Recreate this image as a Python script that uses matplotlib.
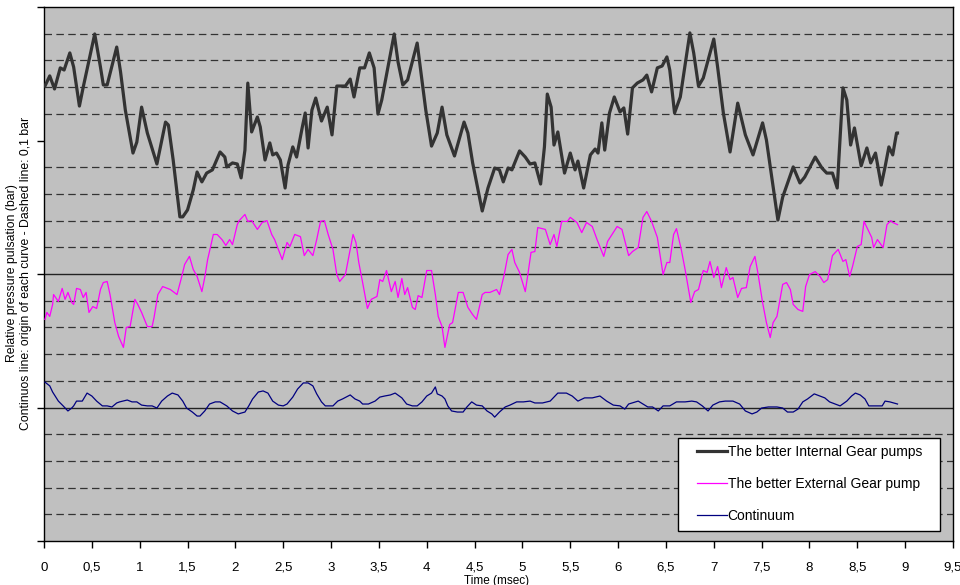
import matplotlib
matplotlib.use("Agg")
import matplotlib.pyplot as plt
from matplotlib.patches import Rectangle
from matplotlib.ticker import FuncFormatter

plt.rcParams["font.family"] = ["Liberation Sans", "DejaVu Sans"]

# curve origins on the axis (bar); dashed grid every 0.1 bar
origins = {"internal": 1.5, "external": 1.0, "continuum": 0.5}

internal_t = [0.01, 0.06, 0.11, 0.17, 0.21, 0.27, 0.31, 0.37, 0.41, 0.53, 0.59, 0.62, 0.66, 0.76, 0.80,
              0.85, 0.93, 0.97, 1.02, 1.08, 1.18, 1.27, 1.30, 1.35, 1.42, 1.45, 1.50, 1.56, 1.60, 1.65,
              1.70, 1.76, 1.84, 1.89, 1.91, 1.97, 2.02, 2.06, 2.10, 2.13, 2.17, 2.23, 2.26, 2.31, 2.36,
              2.39, 2.43, 2.47, 2.52, 2.55, 2.60, 2.64, 2.70, 2.73, 2.76, 2.80, 2.84, 2.90, 2.96, 3.01,
              3.06, 3.15, 3.20, 3.24, 3.30, 3.35, 3.40, 3.45, 3.49, 3.53, 3.66, 3.70, 3.75, 3.80, 3.90,
              3.94, 3.99, 4.05, 4.11, 4.16, 4.21, 4.29, 4.39, 4.43, 4.48, 4.58, 4.64, 4.71, 4.76, 4.80,
              4.85, 4.89, 4.97, 5.03, 5.08, 5.13, 5.19, 5.23, 5.26, 5.30, 5.33, 5.37, 5.44, 5.50, 5.55,
              5.58, 5.64, 5.71, 5.76, 5.79, 5.83, 5.86, 5.91, 5.96, 6.02, 6.06, 6.10, 6.15, 6.20, 6.26,
              6.30, 6.35, 6.41, 6.46, 6.51, 6.54, 6.59, 6.65, 6.75, 6.79, 6.84, 6.89, 7.00, 7.04, 7.10,
              7.17, 7.25, 7.33, 7.41, 7.51, 7.55, 7.63, 7.67, 7.72, 7.83, 7.90, 7.95, 8.06, 8.13, 8.18,
              8.24, 8.29, 8.35, 8.39, 8.43, 8.47, 8.54, 8.60, 8.64, 8.69, 8.75, 8.79, 8.83, 8.87, 8.91,
              8.92]
internal_p = [0.204, 0.242, 0.193, 0.272, 0.264, 0.328, 0.275, 0.129, 0.200, 0.399, 0.275, 0.208, 0.208,
              0.350, 0.257, 0.114, -0.047, -0.006, 0.125, 0.028, -0.088, 0.069, 0.058, -0.073, -0.286,
              -0.286, -0.260, -0.185, -0.118, -0.155, -0.122, -0.110, -0.043, -0.062, -0.099, -0.084,
              -0.088, -0.140, -0.036, 0.215, 0.032, 0.088, 0.051, -0.073, -0.009, -0.054, -0.047, -0.073,
              -0.178, -0.092, -0.024, -0.062, 0.051, 0.103, -0.028, 0.114, 0.159, 0.073, 0.125, 0.021,
              0.204, 0.204, 0.230, 0.163, 0.272, 0.272, 0.328, 0.272, 0.099, 0.152, 0.399, 0.294, 0.208,
              0.227, 0.365, 0.253, 0.114, -0.021, 0.028, 0.125, 0.021, -0.058, 0.069, 0.028, -0.084,
              -0.264, -0.178, -0.103, -0.110, -0.155, -0.103, -0.110, -0.039, -0.062, -0.088, -0.084,
              -0.163, -0.024, 0.174, 0.125, -0.017, 0.032, -0.122, -0.047, -0.110, -0.077, -0.178,
              -0.054, -0.032, -0.047, 0.066, -0.036, 0.103, 0.163, 0.107, 0.122, 0.024, 0.197, 0.215,
              0.227, 0.245, 0.182, 0.272, 0.279, 0.313, 0.264, 0.103, 0.163, 0.403, 0.328, 0.204, 0.234,
              0.380, 0.275, 0.103, -0.043, 0.140, 0.021, -0.054, 0.066, 0.002, -0.197, -0.298, -0.212,
              -0.099, -0.159, -0.137, -0.062, -0.103, -0.122, -0.122, -0.178, 0.197, 0.152, -0.017,
              0.047, -0.095, -0.028, -0.084, -0.047, -0.167, -0.099, -0.024, -0.054, 0.028, 0.028]

external_t = [0.01, 0.03, 0.06, 0.09, 0.10, 0.15, 0.19, 0.22, 0.25, 0.29, 0.31, 0.34, 0.38, 0.41, 0.44,
              0.47, 0.51, 0.55, 0.59, 0.62, 0.66, 0.69, 0.74, 0.78, 0.83, 0.86, 0.90, 0.95, 0.98, 1.02,
              1.08, 1.13, 1.15, 1.19, 1.24, 1.32, 1.35, 1.39, 1.44, 1.47, 1.52, 1.56, 1.60, 1.65, 1.68,
              1.71, 1.77, 1.81, 1.86, 1.90, 1.94, 1.97, 2.02, 2.04, 2.10, 2.13, 2.17, 2.23, 2.28, 2.33,
              2.38, 2.41, 2.45, 2.49, 2.54, 2.57, 2.62, 2.68, 2.72, 2.76, 2.81, 2.85, 2.89, 2.93, 2.97,
              3.02, 3.06, 3.09, 3.15, 3.19, 3.23, 3.26, 3.29, 3.33, 3.38, 3.42, 3.48, 3.51, 3.54, 3.58,
              3.63, 3.67, 3.70, 3.74, 3.77, 3.80, 3.85, 3.88, 3.91, 3.95, 4.00, 4.05, 4.09, 4.12, 4.16,
              4.19, 4.24, 4.27, 4.33, 4.38, 4.43, 4.48, 4.52, 4.58, 4.61, 4.66, 4.73, 4.76, 4.81, 4.85,
              4.89, 4.92, 4.97, 5.03, 5.06, 5.09, 5.13, 5.16, 5.24, 5.29, 5.33, 5.36, 5.41, 5.47, 5.50,
              5.57, 5.62, 5.67, 5.73, 5.78, 5.85, 5.89, 5.99, 6.04, 6.11, 6.15, 6.21, 6.26, 6.30, 6.35,
              6.41, 6.47, 6.51, 6.54, 6.58, 6.61, 6.66, 6.70, 6.76, 6.80, 6.84, 6.89, 6.93, 6.96, 7.00,
              7.04, 7.08, 7.13, 7.17, 7.20, 7.25, 7.29, 7.34, 7.38, 7.43, 7.46, 7.51, 7.55, 7.59, 7.62,
              7.66, 7.72, 7.76, 7.80, 7.83, 7.88, 7.93, 7.96, 8.00, 8.06, 8.11, 8.15, 8.19, 8.24, 8.30,
              8.35, 8.38, 8.42, 8.45, 8.50, 8.54, 8.57, 8.61, 8.65, 8.67, 8.71, 8.77, 8.81, 8.85, 8.87,
              8.92]
external_p = [-0.170, -0.144, -0.159, -0.114, -0.077, -0.103, -0.054, -0.095, -0.069, -0.107, -0.114,
              -0.054, -0.058, -0.088, -0.069, -0.144, -0.122, -0.129, -0.058, -0.032, -0.028, -0.077,
              -0.182, -0.234, -0.275, -0.200, -0.197, -0.095, -0.114, -0.144, -0.197, -0.197, -0.163,
              -0.077, -0.047, -0.058, -0.066, -0.077, -0.009, 0.036, 0.066, 0.017, -0.009, -0.066,
              -0.013, 0.054, 0.148, 0.148, 0.129, 0.107, 0.129, 0.110, 0.185, 0.200, 0.223, 0.197,
              0.200, 0.167, 0.193, 0.200, 0.148, 0.129, 0.092, 0.054, 0.118, 0.103, 0.148, 0.140,
              0.069, 0.092, 0.069, 0.129, 0.197, 0.200, 0.148, 0.092, -0.002, -0.028, -0.002, 0.073,
              0.148, 0.118, 0.043, -0.032, -0.129, -0.095, -0.084, -0.021, -0.028, 0.013, -0.066,
              -0.028, -0.088, -0.017, -0.077, -0.051, -0.125, -0.133, -0.081, -0.088, 0.013, 0.013,
              -0.077, -0.159, -0.197, -0.275, -0.189, -0.182, -0.069, -0.069, -0.125, -0.152, -0.170,
              -0.077, -0.069, -0.069, -0.058, -0.077, -0.002, 0.073, 0.092, 0.043, 0.006, -0.066,
              0.006, 0.081, 0.084, 0.174, 0.167, 0.110, 0.148, 0.103, 0.197, 0.197, 0.212, 0.193,
              0.155, 0.193, 0.178, 0.129, 0.066, 0.122, 0.178, 0.167, 0.069, 0.084, 0.099, 0.212,
              0.234, 0.197, 0.137, -0.002, 0.043, 0.043, 0.148, 0.170, 0.092, 0.017, -0.107, -0.066,
              -0.058, 0.013, 0.006, 0.047, -0.013, 0.028, -0.051, 0.024, -0.021, -0.013, -0.088,
              -0.054, -0.051, 0.028, 0.066, 0.006, -0.107, -0.182, -0.238, -0.182, -0.159, -0.039,
              -0.032, -0.058, -0.114, -0.133, -0.140, -0.047, -0.002, 0.009, -0.009, -0.032, -0.021,
              0.069, 0.092, 0.047, 0.054, -0.009, 0.028, 0.103, 0.110, 0.197, 0.167, 0.137, 0.099,
              0.129, 0.099, 0.185, 0.200, 0.193, 0.185]

continuum_t = [0.01, 0.06, 0.09, 0.15, 0.20, 0.25, 0.29, 0.31, 0.34, 0.40, 0.45, 0.50, 0.55, 0.61, 0.66,
               0.71, 0.76, 0.79, 0.87, 0.92, 0.97, 1.02, 1.08, 1.13, 1.18, 1.23, 1.29, 1.34, 1.40, 1.45,
               1.49, 1.55, 1.60, 1.63, 1.68, 1.73, 1.79, 1.84, 1.91, 1.97, 2.03, 2.10, 2.14, 2.18, 2.24,
               2.29, 2.34, 2.39, 2.45, 2.50, 2.54, 2.60, 2.65, 2.71, 2.76, 2.81, 2.85, 2.90, 2.94, 3.02,
               3.07, 3.12, 3.20, 3.25, 3.30, 3.33, 3.39, 3.46, 3.51, 3.56, 3.62, 3.67, 3.74, 3.79, 3.85,
               3.90, 3.95, 4.00, 4.05, 4.09, 4.11, 4.16, 4.19, 4.22, 4.26, 4.32, 4.38, 4.42, 4.47, 4.52,
               4.58, 4.63, 4.68, 4.71, 4.76, 4.82, 4.87, 4.94, 5.01, 5.08, 5.13, 5.21, 5.29, 5.37, 5.46,
               5.52, 5.58, 5.65, 5.73, 5.81, 5.88, 5.95, 6.02, 6.07, 6.11, 6.21, 6.26, 6.31, 6.36, 6.42,
               6.47, 6.54, 6.61, 6.70, 6.77, 6.82, 6.88, 6.94, 6.99, 7.06, 7.12, 7.20, 7.27, 7.33, 7.40,
               7.45, 7.50, 7.57, 7.66, 7.72, 7.77, 7.83, 7.88, 7.93, 7.98, 8.05, 8.11, 8.16, 8.21, 8.32,
               8.39, 8.44, 8.48, 8.53, 8.58, 8.62, 8.68, 8.76, 8.79, 8.84, 8.92]
continuum_p = [0.095, 0.081, 0.058, 0.024, 0.006, -0.013, -0.002, 0.006, 0.024, 0.024, 0.054, 0.043,
               0.024, 0.006, 0.006, 0.002, 0.017, 0.021, 0.028, 0.021, 0.021, 0.009, 0.006, 0.006,
               -0.002, 0.024, 0.043, 0.054, 0.047, 0.024, -0.002, -0.017, -0.032, -0.032, -0.013,
               0.013, 0.021, 0.021, 0.006, -0.013, -0.024, -0.017, 0.006, 0.032, 0.058, 0.062, 0.054,
               0.024, 0.009, 0.006, 0.013, 0.039, 0.069, 0.092, 0.092, 0.081, 0.051, 0.021, 0.006,
               0.006, 0.024, 0.032, 0.047, 0.032, 0.024, 0.013, 0.013, 0.024, 0.039, 0.043, 0.047,
               0.054, 0.036, 0.013, 0.006, 0.006, 0.021, 0.043, 0.054, 0.077, 0.051, 0.043, 0.032,
               0.006, -0.013, -0.017, -0.017, 0.002, 0.021, 0.009, 0.006, -0.013, -0.024, -0.036,
               -0.017, 0.002, 0.009, 0.021, 0.021, 0.024, 0.017, 0.017, 0.024, 0.054, 0.054, 0.043,
               0.024, 0.036, 0.036, 0.043, 0.024, 0.009, 0.006, -0.006, 0.013, 0.024, 0.013, 0.002,
               0.002, -0.013, 0.006, 0.006, 0.021, 0.021, 0.024, 0.021, 0.006, -0.013, 0.009, 0.021,
               0.024, 0.024, 0.013, -0.013, -0.024, -0.017, -0.002, 0.002, 0.002, -0.002, -0.017,
               -0.017, -0.006, 0.021, 0.032, 0.051, 0.043, 0.036, 0.021, 0.006, 0.024, 0.043, 0.054,
               0.047, 0.032, 0.006, 0.006, 0.006, 0.024, 0.021, 0.013]

labels = ["The better Internal Gear pumps", "The better External Gear pump", "Continuum"]
x_ticks = [0, 0.5, 1, 1.5, 2, 2.5, 3, 3.5, 4, 4.5, 5, 5.5, 6, 6.5, 7, 7.5, 8, 8.5, 9, 9.5]

fig = plt.figure(figsize=(9.6, 5.85), dpi=100)
ax = fig.add_axes([44 / 960, 1 - 541 / 585, 909 / 960, 534 / 585])
ax.set_facecolor("#c0c0c0")
ax.set_xlim(0, 9.5)
ax.set_ylim(0, 2.0)

# grid: dashed every 0.1 bar, solid at the two lower curve origins, nothing at 1.5
for i in range(1, 20):
    level = i / 10
    if i % 5 == 0:
        if i in (5, 10):
            ax.axhline(level, color="#222222", lw=1.0, zorder=1)
        continue
    ax.axhline(level, color="#333333", lw=0.9, ls=(0, (6, 3.5)), zorder=1)

ax.plot(internal_t, [origins["internal"] + p for p in internal_p], color="#333333", lw=2.3,
        label=labels[0], zorder=3, solid_joinstyle="round")
ax.plot(external_t, [origins["external"] + p for p in external_p], color="#ff00ff", lw=0.9,
        label=labels[1], zorder=3)
ax.plot(continuum_t, [origins["continuum"] + p for p in continuum_p], color="#000080", lw=0.9,
        label=labels[2], zorder=3)

ax.set_xticks(x_ticks)
ax.xaxis.set_major_formatter(FuncFormatter(lambda v, _: f"{v:g}".replace(".", ",")))
ax.set_yticks([0, 0.5, 1.0, 1.5, 2.0])
ax.set_yticklabels([])
ax.tick_params(axis="both", direction="out", length=5, width=1, colors="black", labelsize=9.5)
ax.tick_params(axis="x", pad=10)
for s in ax.spines.values():
    s.set_color("black")
    s.set_linewidth(1)

# two-line y label placed by hand (figure fraction)
fig.text(12 / 960, 1 - 273 / 585, "Relative pressure pulsation (bar)", rotation=90,
         fontsize=8.8, ha="center", va="center")
fig.text(26 / 960, 1 - 273 / 585, "Continuos line: origin of each curve - Dashed line: 0,1 bar",
         rotation=90, fontsize=8.8, ha="center", va="center")
fig.text(497 / 960, 1 - 575 / 585, "Time (msec)", fontsize=8.5, ha="center", va="top")

# legend box drawn separately so the side padding can be wider than the top padding
ax.add_patch(Rectangle((634 / 909, 10 / 534), 262 / 909, 93 / 534, transform=ax.transAxes,
                       facecolor="white", edgecolor="black", lw=1, zorder=4))
leg = ax.legend(loc="upper left", bbox_to_anchor=(653 / 909, 96 / 534), borderaxespad=0,
                borderpad=0, frameon=False, fontsize=10, handlelength=2.15, handletextpad=0.05,
                labelspacing=1.3)
leg.set_zorder(5)

fig.savefig("out.png", dpi=100)
